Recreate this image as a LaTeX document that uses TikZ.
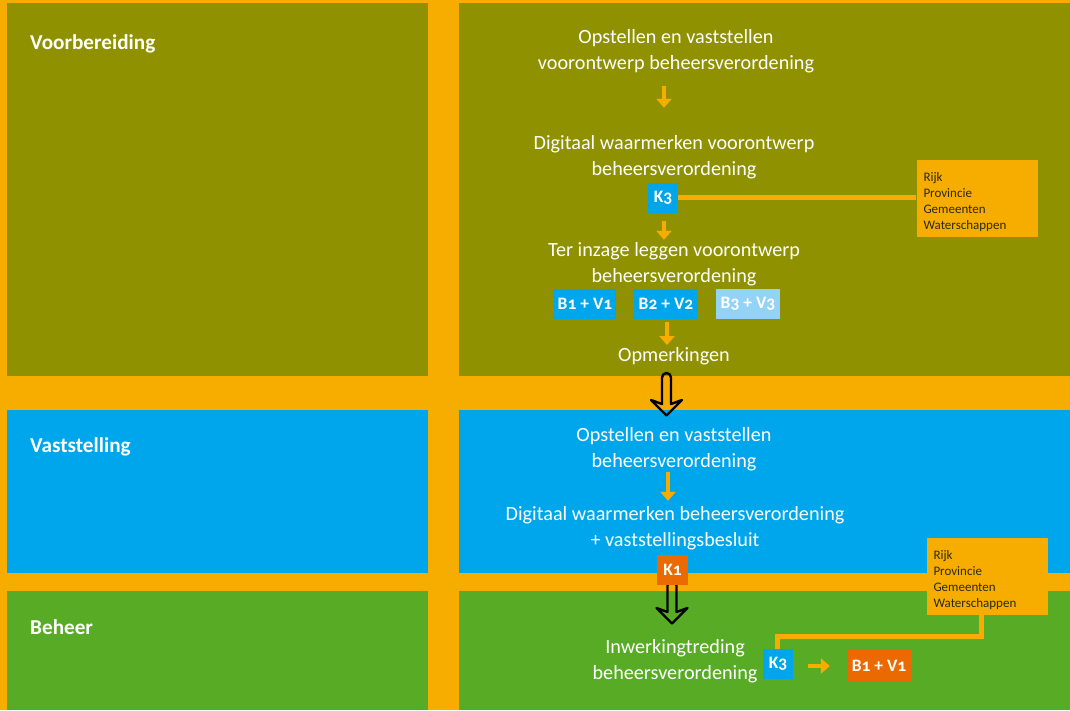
\documentclass[tikz,border=0pt]{standalone}
\usepackage{fontspec}
\setmainfont{Carlito}[Numbers=OldStyle]
\usetikzlibrary{arrows.meta}
\definecolor{cOlive}{HTML}{8F9100}
\definecolor{cBlue}{HTML}{00A6EB}
\definecolor{cGreen}{HTML}{58AC25}
\definecolor{cOrange}{HTML}{F7AD00}
\definecolor{cRed}{HTML}{EA6A00}
\definecolor{cLight}{HTML}{93D3F5}
\definecolor{cDark}{HTML}{2A2A1A}
\tikzset{
  txt/.style={text=white, font=\fontsize{20.2}{26.5}\selectfont, align=center, inner sep=0pt},
  phase/.style={text=white, font=\bfseries\fontsize{21.2}{24}\selectfont, anchor=base west, inner sep=0pt},
  tag/.style={text=white, font=\bfseries\fontsize{17.5}{20}\selectfont, inner sep=0pt, minimum height=30pt},
  list/.style={fill=cOrange, text=cDark, font=\fontsize{13}{16}\selectfont, align=left,
    inner xsep=7pt, text width=107pt, minimum height=77pt},
  oarrow/.style={draw=cOrange, line width=4.5pt, -{Triangle[length=9pt,width=15pt]}},
  conn/.style={draw=cOrange, line width=5pt},
  hollow/.pic={\draw[black, line width=2.4pt, line join=round, line cap=round]
    (-4.5,31) -- (-4.5,4.5) arc[start angle=180, end angle=360, radius=4.5]
    -- (4.5,31) -- (15.5,27) -- (0,42.5) -- (-15.5,27) -- cycle;}
}
\begin{document}
\begin{tikzpicture}[x=1pt,y=-1pt]
\useasboundingbox (0,0) rectangle (1070,710);
\fill[cOrange] (0,0) rectangle (1070,710);
\fill[cOlive] (7,3) rectangle (428,376);
\fill[cOlive] (459,3) rectangle (1070,376);
\fill[cBlue] (7,410) rectangle (428,573);
\fill[cBlue] (459,410) rectangle (1070,573);
\fill[cGreen] (7,591) rectangle (428,710);
\fill[cGreen] (459,591) rectangle (1070,710);

\node[phase] (p1) at (30,49) {Voorbereiding};
\node[phase] (p2) at (30,452) {Vaststelling};
\node[phase] (p3) at (30,634) {Beheer};

% row 1
\node[txt] (t1) at (676,51) {Opstellen en vaststellen\\voorontwerp beheersverordening};
\node[txt] (t2) at (674,157) {Digitaal waarmerken voorontwerp\\beheersverordening};
\node[tag, fill=cBlue, minimum width=30pt] (k3a) at (663,197.5) {K3};
\node[list] (r1) at (977,198.5) {\rule{0pt}{16pt}Rijk\\Provincie\\Gemeenten\\Waterschappen};
\node[txt] (t3) at (674,264) {Ter inzage leggen voorontwerp\\beheersverordening};
\node[tag, fill=cBlue, minimum width=62pt] (b1) at (585,304) {B1 + V1};
\node[tag, fill=cBlue, minimum width=64pt] (b2) at (666,304) {B2 + V2};
\node[tag, fill=cLight, minimum width=64pt] (b3) at (748,304) {B3 + V3};
\node[txt] (t4) at (674,356) {Opmerkingen};

\draw[conn] (k3a.east) -- (k3a.east -| r1.west);
\draw[oarrow, shorten <=13pt, shorten >=27pt] ([xshift=-12pt]t1.south) -- ([xshift=-10pt]t2.north);
\draw[oarrow, shorten <=8pt, shorten >=2pt] ([xshift=1pt]k3a.south) -- ([xshift=-10pt]t3.north);
\draw[oarrow, shorten <=3pt, shorten >=2pt] ([xshift=1pt]b2.south) -- ([xshift=-7pt]t4.north);
\pic at ([xshift=-7.5pt,yshift=-17pt]t4.center) {hollow};

% row 2
\node[txt] (t5) at (674,449) {Opstellen en vaststellen\\beheersverordening};
\node[txt] (t6) at (675,528) {Digitaal waarmerken beheersverordening\\+ vaststellingsbesluit};
\draw[oarrow, shorten <=1pt, shorten >=5pt] ([xshift=-6pt]t5.south) -- ([xshift=-7pt]t6.north);
\pic at (672,581) {hollow};
\node[tag, fill=cRed, minimum width=31pt] (k1) at (672.5,570) {K1};
\node[list] (r2) at (987,576.5) {\rule{0pt}{16pt}Rijk\\Provincie\\Gemeenten\\Waterschappen};

% row 3
\node[txt] (t7) at (675,661) {Inwerkingtreding\\beheersverordening};
\node[tag, fill=cBlue, minimum width=30pt] (k3b) at (778,664) {K3};
\node[tag, fill=cRed, minimum width=64pt, minimum height=31pt] (b1b) at (879,665.5) {B1 + V1};
\draw[conn] ([xshift=-6pt]r2.south) -- ++(0,21) -| ([xshift=-1pt]k3b.north);
\draw[oarrow, shorten <=15pt, shorten >=17pt] ([yshift=-2pt]k3b.east) -- ([yshift=-0.5pt]b1b.west);
\end{tikzpicture}
\end{document}
